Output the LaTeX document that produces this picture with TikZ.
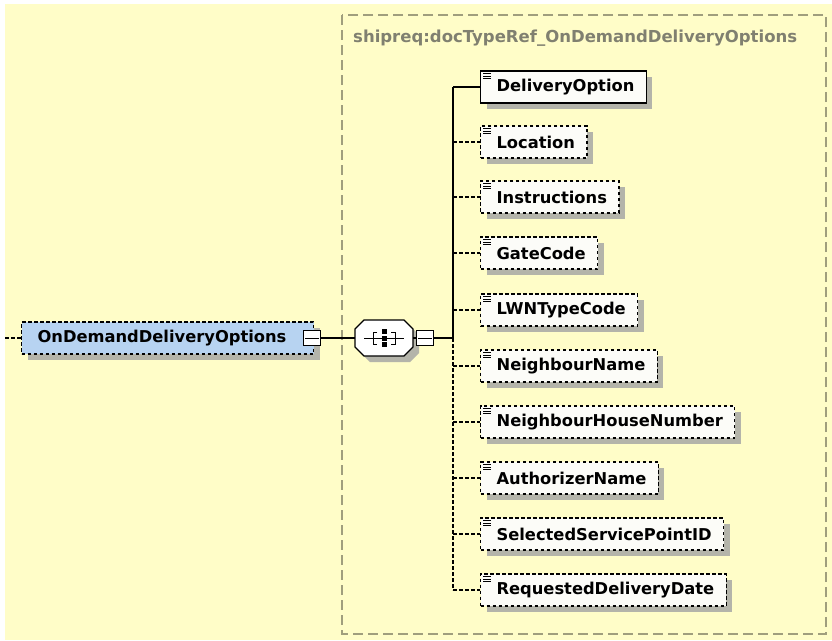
\documentclass[tikz,border=0pt]{standalone}
\usepackage{fontspec}
\setmainfont{DejaVu Sans}
\usetikzlibrary{shadows}
\definecolor{bgyellow}{RGB}{255,253,200}
\definecolor{mainblue}{RGB}{183,211,241}
\definecolor{shadowgray}{RGB}{180,180,170}
\definecolor{groupgray}{RGB}{160,158,125}
\definecolor{titlegray}{RGB}{128,128,112}
\definecolor{childfill}{RGB}{252,252,248}
\begin{document}
\begin{tikzpicture}[x=1pt,y=-1pt,
  elemfont/.style={font=\bfseries\fontsize{16.3}{18}\selectfont},
  elem/.style={draw=black, line width=1.2pt, fill=childfill, anchor=west,
    minimum height=32pt, inner xsep=12pt, inner ysep=0pt, elemfont,
    drop shadow={shadow xshift=6pt, shadow yshift=-6pt, fill=shadowgray, opacity=1}},
  optelem/.style={elem, dash pattern=on 3.5pt off 2.5pt},
  conn/.style={draw=black, line width=1.2pt},
  optconn/.style={conn, dash pattern=on 3.5pt off 2.5pt},
  minusbox/.style={draw=black, line width=1pt, fill=white, minimum width=17pt, minimum height=15pt, inner sep=0pt},
  groupbox/.style={draw=groupgray, line width=1.2pt, dash pattern=on 10pt off 5pt},
]
\useasboundingbox (0,0) rectangle (832,640);
\fill[white] (0,0) rectangle (832,640);
\fill[bgyellow] (5,4) rectangle (832,640);

% group box
\draw[groupbox] (342,15) rectangle (826,634);
\node[anchor=west, text=titlegray, font=\bfseries\fontsize{16.5}{18}\selectfont, inner sep=0pt] (title) at (353,38) {shipreq:docTypeRef\_OnDemandDeliveryOptions};

% main element
\node[draw=black, line width=1.2pt, fill=mainblue, dash pattern=on 3.5pt off 2.5pt, anchor=west,
  minimum height=32pt, inner xsep=16pt, inner ysep=0pt, text width=260pt, align=left, elemfont,
  drop shadow={shadow xshift=6pt, shadow yshift=-6pt, fill=shadowgray, opacity=1}]
  (main) at (21,338) {OnDemandDeliveryOptions};
\coordinate (in) at (5,338);
\draw[optconn] (in) -- (main.west);
\node[minusbox] (m1) at (312,338) {};
\draw[line width=1pt] ([xshift=2pt]m1.west) -- ([xshift=-2pt]m1.east);

% sequence compositor
\node[minimum width=58pt, minimum height=36pt, inner sep=0pt] (seq) at (384,338) {};
\begin{scope}[shift={(seq.center)}]
  \fill[shadowgray] (-14,-12) -- (26,-12) -- (35,-3) -- (35,15) -- (26,24) -- (-14,24) -- (-23,15) -- (-23,-3) -- cycle;
  \draw[line width=1.2pt, fill=white] (-20,-18) -- (20,-18) -- (29,-9) -- (29,9) -- (20,18) -- (-20,18) -- (-29,9) -- (-29,-9) -- cycle;
  \draw[line width=1pt] (-20,0) -- (20,0);
  \draw[line width=1pt] (-7,-6) -- (-11,-6) -- (-11,6) -- (-7,6);
  \draw[line width=1pt] (7,-6) -- (11,-6) -- (11,6) -- (7,6);
  \fill (-2.5,-9) rectangle (2.5,-4);
  \fill (-2.5,-2.5) rectangle (2.5,2.5);
  \fill (-2.5,4) rectangle (2.5,9);
\end{scope}
\draw[conn] (m1.east) -- (seq.west);
\node[minusbox] (m2) at (425,338) {};
\draw[line width=1pt] ([xshift=2pt]m2.west) -- ([xshift=-2pt]m2.east);
\draw[conn] (seq.east) -- (m2.west);
\coordinate (bus) at (453,338);
\draw[conn] (m2.east) -- (bus);

% children
\node[elem] (c1) at (480,87) {\hspace*{4pt}DeliveryOption};
\node[optelem] (c2) at (480,142) {\hspace*{4pt}Location};
\node[optelem] (c3) at (480,197) {\hspace*{4pt}Instructions};
\node[optelem] (c4) at (480,253) {\hspace*{4pt}GateCode};
\node[optelem] (c5) at (480,310) {\hspace*{4pt}LWNTypeCode};
\node[optelem] (c6) at (480,366) {\hspace*{4pt}NeighbourName};
\node[optelem] (c7) at (480,422) {\hspace*{4pt}NeighbourHouseNumber};
\node[optelem] (c8) at (480,478) {\hspace*{4pt}AuthorizerName};
\node[optelem] (c9) at (480,534) {\hspace*{4pt}SelectedServicePointID};
\node[optelem] (c10) at (480,590) {\hspace*{4pt}RequestedDeliveryDate};

\foreach \n in {c1,c2,c3,c4,c5,c6,c7,c8,c9,c10} {
  \foreach \k in {3,5.5,8}
    \draw[line width=0.7pt] ([xshift=3pt,yshift=-\k pt]\n.north west) -- ++(8,0);
}

% bus
\draw[conn] (bus |- c1.west) -- (bus);
\draw[optconn] (bus) -- (bus |- c10.west);
\draw[conn] (bus |- c1.west) -- (c1.west);
\foreach \n in {c2,c3,c4,c5,c6,c7,c8,c9,c10}
  \draw[optconn] (bus |- \n.west) -- (\n.west);
\end{tikzpicture}
\end{document}
